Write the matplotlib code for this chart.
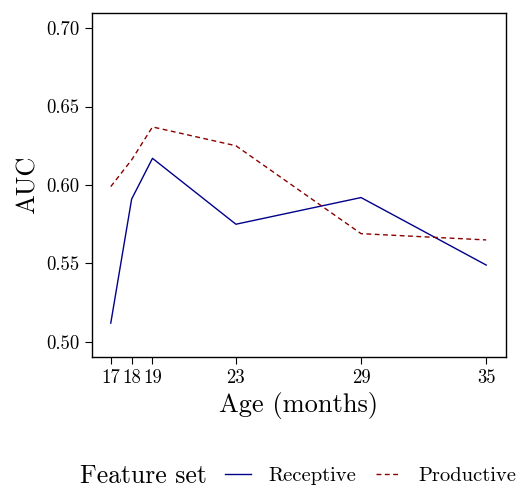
import matplotlib.pyplot as plt
from matplotlib.lines import Line2D

plt.rcParams['font.family'] = 'cmr10'
plt.rcParams['mathtext.fontset'] = 'cm'
plt.rcParams['axes.formatter.use_mathtext'] = True

# AUC per age, for both feature sets
ages = [17, 18, 19, 23, 29, 35]
receptive = [0.512, 0.591, 0.617, 0.575, 0.592, 0.549]
productive = [0.599, 0.616, 0.637, 0.625, 0.569, 0.565]
yticks = [0.50, 0.55, 0.60, 0.65, 0.70]

fig = plt.figure(figsize=(5.18, 4.88), dpi=100)
ax = fig.add_axes([92/518, 1 - 357/488, 414/518, 344/488])

ax.plot(ages, receptive, color='#00008b', lw=1.0, label='Receptive')
ax.plot(ages, productive, color='#8b0000', lw=1.0, ls=(0, (3.5, 2.5)), label='Productive')

ax.set_xticks(ages)
ax.set_xticklabels([str(a) for a in ages], fontsize=13.5)
ax.set_yticks(yticks)
ax.set_yticklabels(['%.2f' % v for v in yticks], fontsize=13.5)
ax.set_ylim(0.4904, 0.7096)
ax.set_xlim(16.1, 35.95)
ax.tick_params(direction='out', length=5, width=0.8, pad=4)
for s in ax.spines.values():
    s.set_linewidth(1.0)

ax.set_xlabel('Age (months)', fontsize=19, labelpad=3)
ax.set_ylabel('AUC', fontsize=19, labelpad=5)

##################
#    legende     #
##################
fig.text(80/518, 1 - 476/488, 'Feature set', fontsize=18.5, va='center', ha='left')
handles = [Line2D([], [], color='#00008b', lw=1.0),
           Line2D([], [], color='#8b0000', lw=1.0, ls=(0, (3.5, 2.5)))]
fig.legend(handles, ['Receptive', 'Productive'], ncol=2, frameon=False,
           loc='center left', bbox_to_anchor=(225/518, 1 - 476/488),
           borderpad=0, borderaxespad=0,
           fontsize=14.8, handlelength=1.25, columnspacing=0.95, handletextpad=0.85)

fig.savefig('out.png', dpi=100)
